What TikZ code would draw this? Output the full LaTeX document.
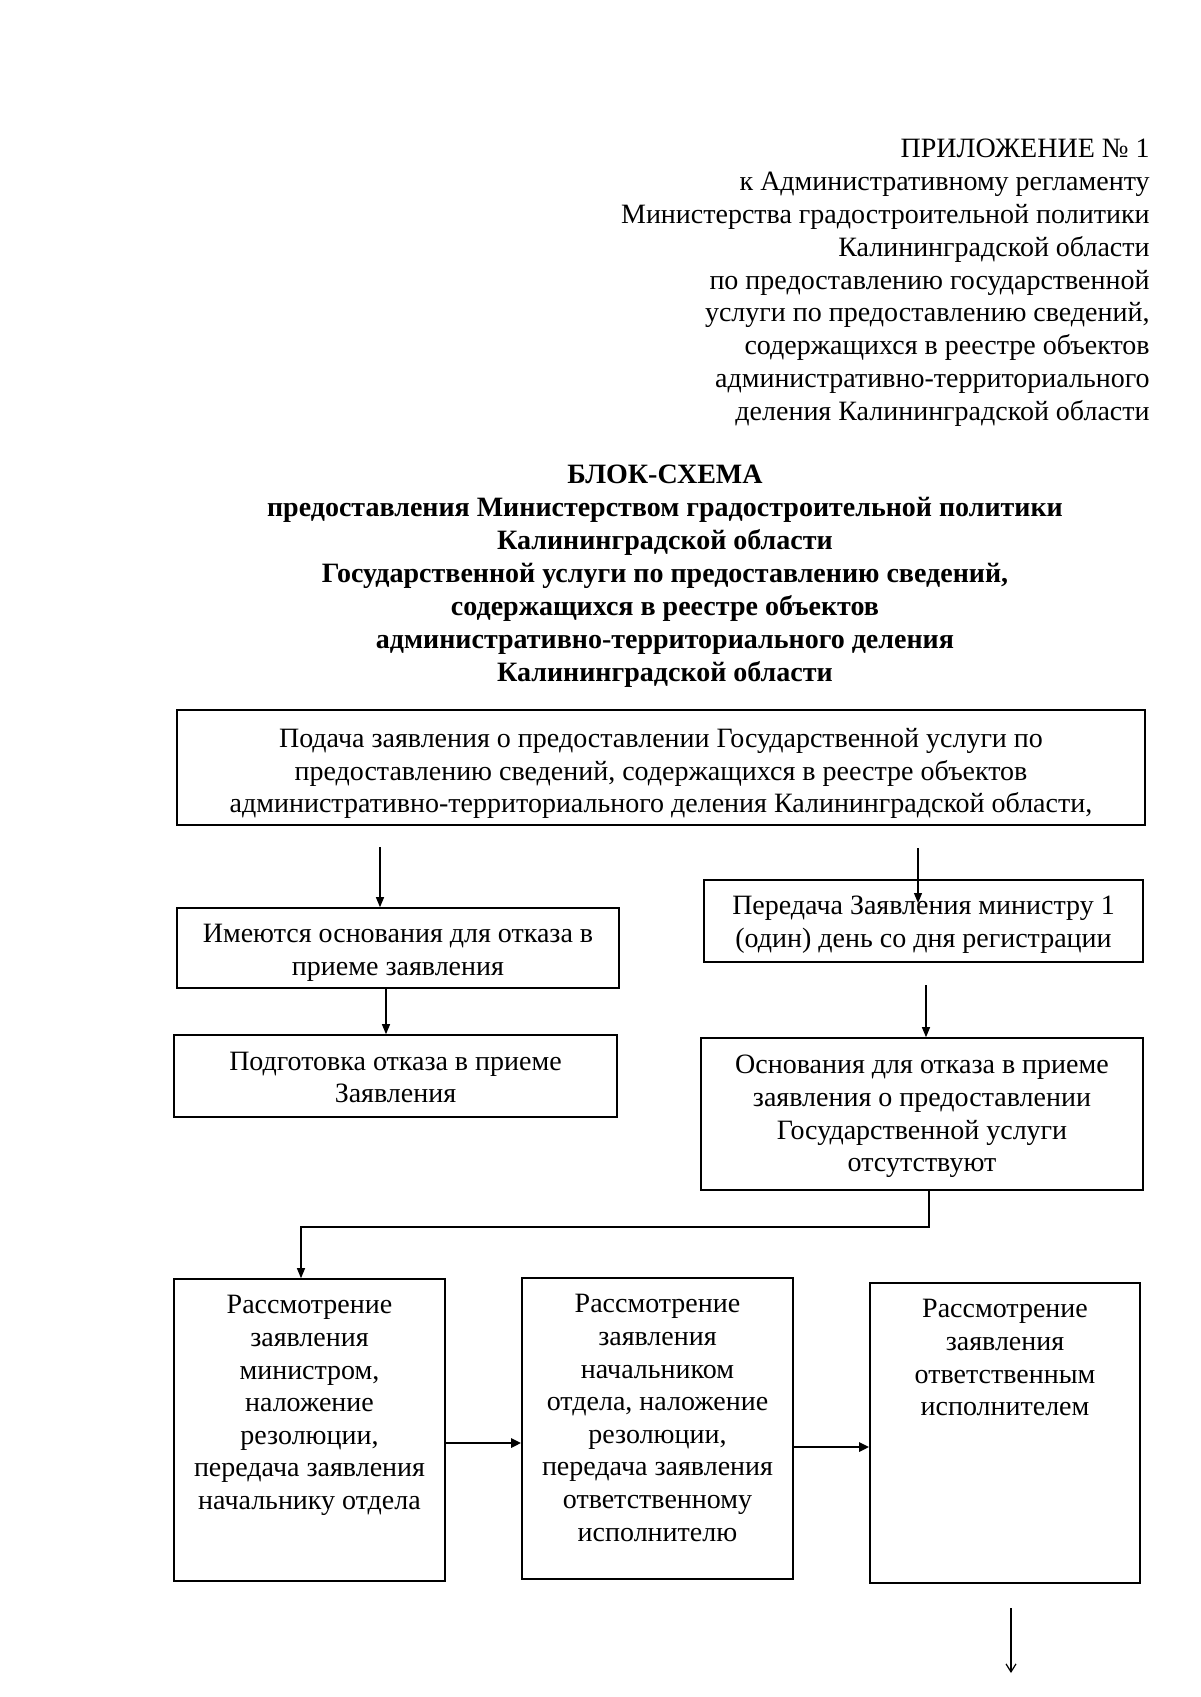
\documentclass[tikz,border=0pt]{standalone}
\usepackage{fontspec}
\setmainfont{Liberation Serif}
\usetikzlibrary{arrows.meta}
\newcommand\tstr[1]{\rule{0pt}{#1}}
\begin{document}
\begin{tikzpicture}[x=0.5pt,y=-0.5pt,
  basefont/.style={font=\fontsize{14}{16.3}\selectfont},
  box/.style={draw, line width=0.8pt, inner sep=0pt, align=center, basefont},
  txt/.style={inner sep=0pt, align=center, basefont},
  conn/.style={line width=0.6pt, -{Triangle[length=5pt,width=4pt]}},
  boldconn/.style={line width=1.4pt, -{Triangle[length=5pt,width=4.5pt]}},
  openconn/.style={line width=0.6pt, -{Straight Barb[length=4pt,width=5pt]}}]
\useasboundingbox (0,0) rectangle (1200,1697);

% header
\node[inner sep=0pt, align=right, font=\fontsize{14}{16.4}\selectfont, anchor=north east] (hdr) at (1150,139)
{ПРИЛОЖЕНИЕ № 1\\
к Административному регламенту\\
Министерства градостроительной политики\\
Калининградской области\\
по предоставлению государственной\\
услуги по предоставлению сведений,\\
содержащихся в реестре объектов\\
административно-территориального\\
деления Калининградской области};

% title
\node[inner sep=0pt, align=center, font=\fontsize{14}{16.5}\selectfont\bfseries, anchor=north] (ttl) at (665,465)
{БЛОК-СХЕМА\\
предоставления Министерством градостроительной политики\\
Калининградской области\\
Государственной услуги по предоставлению сведений,\\
содержащихся в реестре объектов\\
административно-территориального деления\\
Калининградской области};

% boxes
\node[box, minimum width=484pt, minimum height=57.5pt] (b1) at (661,767.5)
{\tstr{15.6pt}Подача заявления о предоставлении Государственной услуги по\\
предоставлению сведений, содержащихся в реестре объектов\\
административно-территориального деления Калининградской области,};

\node[box, minimum width=221pt, minimum height=40pt] (b2) at (398,948)
{\tstr{14pt}Имеются основания для отказа в\\приеме заявления};

\node[box, minimum width=219.5pt, minimum height=41pt] (b2r) at (923.5,921)
{\tstr{13pt}Передача Заявления министру 1\\(один) день со дня регистрации};

\node[box, minimum width=221.5pt, minimum height=41pt] (b3) at (395.5,1076)
{\tstr{10.8pt}Подготовка отказа в приеме\\Заявления};

\node[box, minimum width=221pt, minimum height=76pt] (b4) at (922,1114)
{\tstr{11.8pt}Основания для отказа в приеме\\заявления о предоставлении\\Государственной услуги\\отсутствуют};

\node[box, minimum width=135.5pt, minimum height=151pt] (b5) at (309.5,1430) {};
\node[txt, anchor=north] (t5) at ([yshift=-8.5pt]b5.north)
{Рассмотрение\\заявления\\министром,\\наложение\\резолюции,\\передача заявления\\начальнику отдела};

\node[box, minimum width=135.5pt, minimum height=150.5pt] (b6) at (657.5,1428.5) {};
\node[txt, anchor=north] (t6) at ([yshift=-8.5pt]b6.north)
{Рассмотрение\\заявления\\начальником\\отдела, наложение\\резолюции,\\передача заявления\\ответственному\\исполнителю};

\node[box, minimum width=135pt, minimum height=150pt] (b7) at (1005,1433) {};
\node[txt, anchor=north] (t7) at ([yshift=-8.5pt]b7.north)
{Рассмотрение\\заявления\\ответственным\\исполнителем};

% connectors
\coordinate (a1s) at (380,847);
\coordinate (a1e) at ([xshift=-9pt]b2.north);
\draw[conn] (a1s) -- (a1e);

\coordinate (a2s) at (918,848);
\coordinate (a2e) at (918,903);
\draw[conn] (a2s) -- (a2e);

\coordinate (a3s) at ([xshift=-6pt]b2.south);
\draw[conn] (a3s) -- (a3s |- b3.north);

\coordinate (a4s) at (926,985);
\draw[conn] (a4s) -- (a4s |- b4.north);

\coordinate (c4) at ([xshift=3.5pt]b4.south);
\coordinate (j) at (0,1227);
\coordinate (c5) at ([xshift=-4.25pt]b5.north);
\draw[conn] (c4) -- (c4 |- j) -| (c5);

\coordinate (d5) at ([yshift=-6.5pt]b5.east);
\draw[boldconn] (d5) -- (d5 -| b6.west);

\coordinate (d6) at ([yshift=-9.25pt]b6.east);
\draw[boldconn] (d6) -- (d6 -| b7.west);

\coordinate (e1) at (1011,1608);
\coordinate (e2) at (1011,1673);
\draw[openconn] (e1) -- (e2);
\end{tikzpicture}
\end{document}
